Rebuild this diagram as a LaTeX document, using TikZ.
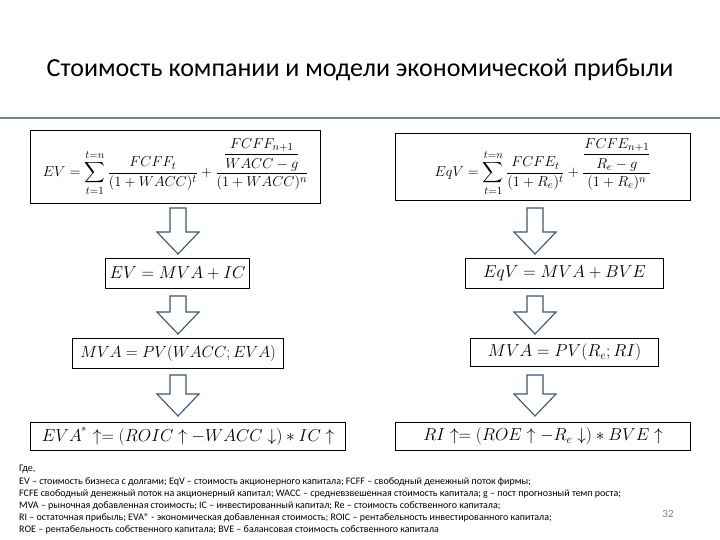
\documentclass[tikz,border=0pt]{standalone}
\usepackage{fontspec}
\usepackage{amsmath}
\setmainfont{Carlito}
\newcommand{\blockarrow}[3]{\draw[barrow] (#1-8,#2) -- (#1+8,#2) -- (#1+8,#3-22) -- (#1+21,#3-22) -- (#1,#3) -- (#1-21,#3-22) -- (#1-8,#3-22) -- cycle;}
\begin{document}
\begin{tikzpicture}[x=1pt,y=-1pt,
  fbox/.style={draw=black,line width=1.2pt,inner sep=0pt,anchor=north west},
  barrow/.style={draw={rgb,255:red,60;green,85;blue,115},line width=1.1pt,fill=white,line join=miter},
  ftext/.style={font=\fontsize{16.5}{20}\selectfont},
  note/.style={anchor=west,font=\fontsize{10}{10}\selectfont,inner sep=0pt}]
\useasboundingbox (0,0) rectangle (720,540);
\node (title) at (360,70) {\fontsize{26}{30}\selectfont Стоимость компании и модели экономической прибыли};
\draw[line width=2.5pt,color={rgb,255:red,110;green,135;blue,145}] (0,118) -- (720,118);
\node[fbox,minimum width=290pt,minimum height=73pt] (l1) at (30,130) {};
\node[font=\fontsize{15}{18}\selectfont] at (l1.center) {$EV=\displaystyle\sum_{t=1}^{t=n}\frac{FCFF_t}{(1+WACC)^t}+\frac{\dfrac{FCFF_{n+1}}{WACC-g}}{(1+WACC)^n}$};
\node[fbox,minimum width=295pt,minimum height=67pt] (r1) at (395,133) {};
\node[font=\fontsize{15}{18}\selectfont] at (r1.center) {$EqV=\displaystyle\sum_{t=1}^{t=n}\frac{FCFE_t}{(1+R_e)^t}+\frac{\dfrac{FCFE_{n+1}}{R_e-g}}{(1+R_e)^n}$};
\node[fbox,minimum width=144pt,minimum height=30pt] (l2) at (105,258) {};
\node[ftext] at (l2.center) {$EV=MVA+IC$};
\node[fbox,minimum width=198pt,minimum height=30pt] (r2) at (465,258) {};
\node[ftext] at (r2.center) {$EqV=MVA+BVE$};
\node[fbox,minimum width=211pt,minimum height=30pt] (l3) at (72,338) {};
\node[ftext] at (l3.center) {\scalebox{0.93}{$MVA=PV(WACC;EVA)$}};
\node[fbox,minimum width=188pt,minimum height=28pt] (r3) at (470,338) {};
\node[ftext] at (r3.center) {$MVA=PV(R_e;RI)$};
\node[fbox,minimum width=315pt,minimum height=28pt] (l4) at (30,422) {};
\node[ftext] at (l4.center) {$EVA^{\text{®}}\uparrow=(ROIC\uparrow-WACC\downarrow)*IC\uparrow$};
\node[fbox,minimum width=295pt,minimum height=28pt] (r4) at (395,422) {};
\node[ftext] at (r4.center) {$RI\uparrow=(ROE\uparrow-R_e\downarrow)*BVE\uparrow$};
\blockarrow{178}{208}{254}
\blockarrow{535}{208}{254}
\blockarrow{178}{296}{334}
\blockarrow{535}{296}{334}
\blockarrow{178}{375}{416}
\blockarrow{535}{375}{416}
\node[note] (n0) at (19,469) {Где,};
\node[note] (n1) at (19,482) {EV – стоимость бизнеса с долгами; EqV – стоимость акционерного капитала; FCFF – свободный денежный поток фирмы;};
\node[note] (n2) at (19,494) {FCFE свободный денежный поток на акционерный капитал; WACC – средневзвешенная стоимость капитала; g – пост прогнозный темп роста;};
\node[note] (n3) at (19,506) {MVA – рыночная добавленная стоимость; IC – инвестированный капитал; Re – стоимость собственного капитала;};
\node[note] (n4) at (19,518) {RI – остаточная прибыль; EVA® - экономическая добавленная стоимость; ROIC – рентабельность инвестированного капитала;};
\node[note] (n5) at (19,530) {ROE – рентабельность собственного капитала; BVE – балансовая стоимость собственного капитала};
\node[font=\fontsize{11}{12}\selectfont,text=gray] (pg) at (668,514) {32};
\end{tikzpicture}
\end{document}
